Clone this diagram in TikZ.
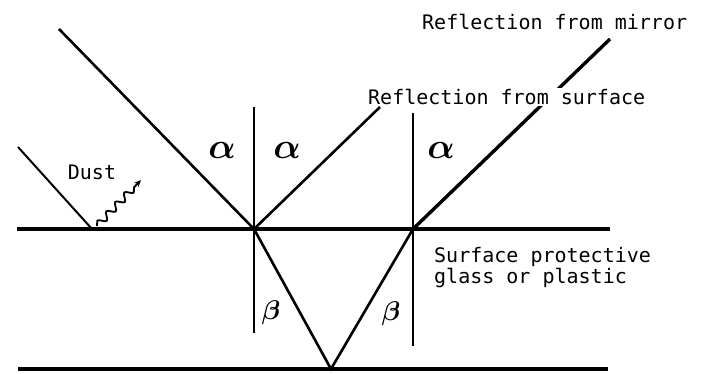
\RequirePackage{fix-cm}
\documentclass[tikz,border=0pt]{standalone}
\usepackage{fontspec}
\setmonofont{DejaVu Sans Mono}
\usetikzlibrary{arrows.meta, decorations.pathmorphing}

\begin{document}
\begin{tikzpicture}[
    x=1pt, y=-1pt,
    ray/.style={line width=2.6pt},
    normal/.style={line width=1.4pt},
    plate/.style={line width=3.2pt},
    lbl/.style={font=\ttfamily\fontsize{20}{21}\selectfont, inner sep=1pt},
    ang/.style={font=\boldmath\fontsize{36}{36}\selectfont, inner sep=0pt},
    refr/.style={font=\boldmath\fontsize{27}{27}\selectfont, inner sep=0pt},
    >={Stealth[length=7pt, width=6pt]}
  ]
    \useasboundingbox (0,0) rectangle (711,373);

    % points on the glass
    \coordinate (hitA) at (254,229);
    \coordinate (hitB) at (413,229);
    \coordinate (hitC) at (331,369);
    \coordinate (dustHit) at (92,229);
    \coordinate (dustIn) at (18,147);
    \coordinate (inA) at (59,29);
    \coordinate (outA) at (380,107);
    \coordinate (outB) at (610,39);
    \coordinate (surfL) at (17,229);
    \coordinate (surfR) at (610,229);
    \coordinate (botL) at (18,369);
    \coordinate (botR) at (608,369);
    \coordinate (nAtop) at (254,107);
    \coordinate (nAbot) at (254,333);
    \coordinate (nBtop) at (413,113);
    \coordinate (nBbot) at (413,346);
    \coordinate (waveS) at (97,226);
    \coordinate (waveE) at (141,180);

    % glass and mirror
    \draw[plate] (surfL) -- (surfR);
    \draw[plate] (botL) -- (botR);

    % normals
    \draw[normal] (nAtop) -- (nAbot);
    \draw[normal] (nBtop) -- (nBbot);

    % rays
    \draw[ray, line width=2pt] (dustIn) -- (dustHit);
    \draw[ray] (inA) -- (hitA);
    \draw[ray] (hitA) -- (outA);
    \draw[ray] (hitA) -- (hitC) -- (hitB);
    \draw[ray, line width=3.4pt] (hitB) -- (outB);
    \draw[->, line width=1.8pt, decorate,
        decoration={snake, amplitude=3.5pt, segment length=13pt, post length=6pt}]
        (waveS) -- (waveE);

    % labels
    \node[lbl, anchor=west] (mirrorTxt) at (421,22) {Reflection from mirror};
    \node[lbl, anchor=west, fill=white] (surfTxt) at (367,97) {Reflection from surface};
    \node[lbl] (dustTxt) at (92,172) {Dust};
    \node[lbl, anchor=west, align=left] (glassTxt) at (433,268) {Surface protective\\glass or plastic};

    \node[ang] (a1) at (222,150) {$\alpha$};
    \node[ang] (a2) at (287,150) {$\alpha$};
    \node[ang] (a3) at (441,150) {$\alpha$};
    \node[refr] (b1) at (271,313) {$\beta$};
    \node[refr] (b2) at (391,314) {$\beta$};
\end{tikzpicture}
\end{document}
